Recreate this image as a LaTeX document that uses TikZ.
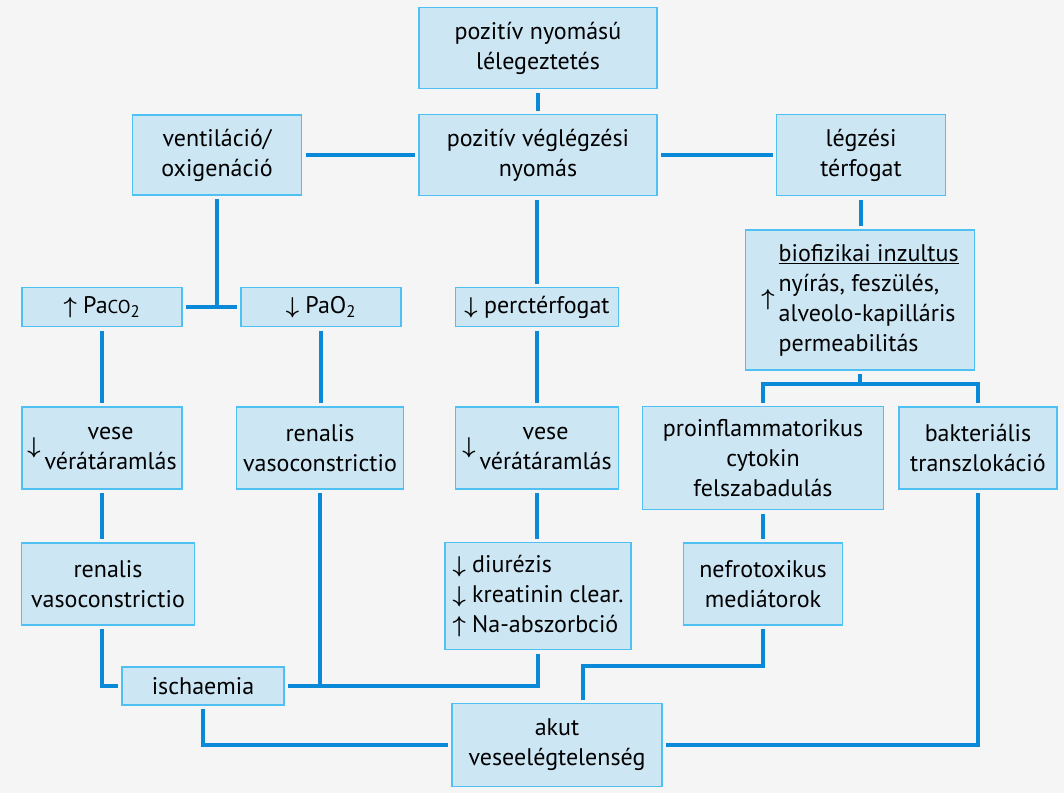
\documentclass[tikz,border=0pt]{standalone}
\usepackage{fontspec}
\setmainfont{PT Sans}
\usetikzlibrary{positioning}
\definecolor{boxfill}{HTML}{CCE6F4}
\definecolor{boxline}{HTML}{4FC0F2}
\definecolor{linkblue}{HTML}{0A89D8}
\definecolor{pagebg}{HTML}{F5F5F5}
\newcommand{\arrdn}{{\boldmath$\downarrow$}}
\newcommand{\arrup}{{\boldmath$\uparrow$}}

\begin{document}
\begin{tikzpicture}[
        x=0.75pt, y=-0.75pt,
        box/.style={draw=boxline, line width=1.3pt, fill=boxfill, font=\fontsize{18}{22.5}\selectfont, align=center, inner sep=2pt, outer sep=3pt},
        wh/.style 2 args={minimum width=#1*0.75pt, minimum height=#2*0.75pt},
        link/.style={draw=linkblue, line width=2.8pt},
    ]
    % ---- PAGE ----
    \fill[pagebg] (0,0) rectangle (1064,793);
    \useasboundingbox (0,0) rectangle (1064,793);

    % ---- TOP ROW ----
    \node[box, wh={238}{81}] (pnl) at (538,48) {pozitív nyomású\\lélegeztetés};
    \node[box, wh={238}{81}] (peep) at (538,155) {pozitív véglégzési\\nyomás};
    \node[box, wh={169}{80}] (vent) at (217,155) {ventiláció/\\oxigenáció};
    \node[box, wh={169}{81}] (vt) at (861,155) {légzési\\térfogat};

    % ---- SECOND ROW ----
    \node[box, wh={160}{39}] (paco) at (102,307) {\arrup\ Pa{\fontsize{14}{16}\selectfont CO}\textsubscript{2}};
    \node[box, wh={160}{39}] (pao) at (321,307) {\arrdn\ PaO\textsubscript{2}};
    \node[box, wh={163}{39}] (co) at (537,307) {\arrdn\ perctérfogat};
    \node[box, wh={229}{140}] (bio) at (860,300) {\arrup\,\begin{tabular}{@{}l@{}}\underline{biofizikai inzultus}\\nyírás, feszülés,\\alveolo-kapilláris\\permeabilitás\end{tabular}};

    % ---- THIRD ROW ----
    \node[box, wh={160}{82}] (rbfL) at (102,448) {\arrdn\,\begin{tabular}{@{}c@{}}vese\\vérátáramlás\end{tabular}};
    \node[box, wh={167}{82}] (rvcM) at (320,448) {renalis\\vasoconstrictio};
    \node[box, wh={163}{82}] (rbfM) at (537,448) {\arrdn\,\begin{tabular}{@{}c@{}}vese\\vérátáramlás\end{tabular}};
    \node[box, wh={241}{103}] (cyto) at (763,458) {proinflammatorikus\\cytokin\\felszabadulás};
    \node[box, wh={158}{82}] (bakt) at (978,448) {bakteriális\\transzlokáció};

    % ---- FOURTH ROW ----
    \node[box, wh={173}{82}] (rvcL) at (108,584) {renalis\\vasoconstrictio};
    \node[box, wh={186}{107}] (diur) at (538,596) {\begin{tabular}{@{}l@{}}\arrdn\ diurézis\\\arrdn\ kreatinin clear.\\\arrup\ Na-abszorbció\end{tabular}};
    \node[box, wh={159}{82}] (nefro) at (763,584) {nefrotoxikus\\mediátorok};

    % ---- BOTTOM ----
    \node[box, wh={162}{38}] (isch) at (203,686) {ischaemia};
    \node[box, wh={210}{83}] (aki) at (557,745) {akut\\veseelégtelenség};

    % ---- LINKS ----
    \draw[link] (pnl) -- (peep);
    \draw[link] (peep) -- (vent);
    \draw[link] (peep) -- (vt);
    \draw[link] (paco) -- (pao);
    \draw[link] (vent) -- (vent |- paco.east);
    \draw[link] (co.north |- peep.south) -- (co.north);
    \draw[link] (vt.south) -- (vt.south |- bio.north);
    \draw[link] (paco) -- (rbfL);
    \draw[link] (pao.south) -- (pao.south |- rvcM.north);
    \draw[link] (co) -- (rbfM);
    \coordinate (split) at (860,384);
    \draw[link] (bio) -- (split);
    \draw[link] (cyto.north) |- (split) -| (bakt.north);
    \draw[link] (rbfL) -- (rbfL |- rvcL.north);
    \draw[link] (rbfM.south) -- (rbfM.south |- diur.north);
    \draw[link] (cyto) -- (nefro);
    \draw[link] (rbfL |- rvcL.south) |- (isch.west);
    \draw[link] (isch.east) -| (diur.south);
    \draw[link] (rvcM.south) -- (rvcM.south |- isch.east);
    \draw[link] (isch.south) |- (aki.west);
    \coordinate (nefbend) at (583,666);
    \draw[link] (nefro.south) |- (nefbend) -- (nefbend |- aki.north);
    \draw[link] (bakt.south) |- (aki.east);
\end{tikzpicture}
\end{document}
